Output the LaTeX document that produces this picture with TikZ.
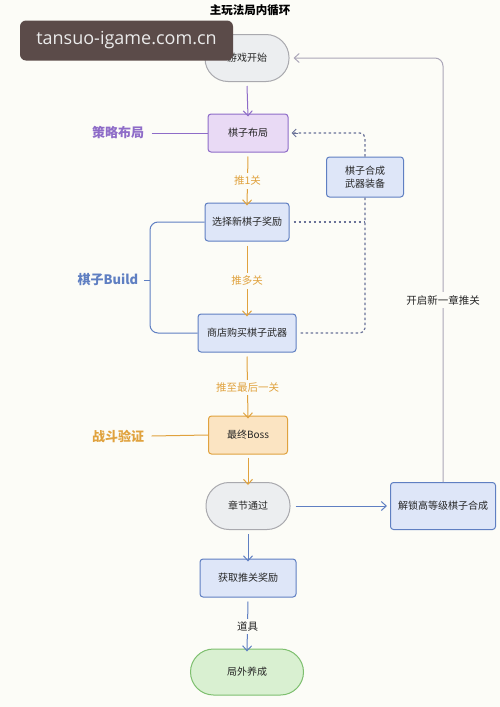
\documentclass[tikz,border=0pt]{standalone}
\usepackage{fontspec}
\setmainfont{Noto Sans CJK SC}
\newfontfamily\wmfont{Open Sans}
\usetikzlibrary{arrows.meta}
\definecolor{bg}{HTML}{FCFCF7}
\definecolor{pur}{HTML}{8E6CC8}
\definecolor{purfill}{HTML}{E9DAF5}
\definecolor{blu}{HTML}{5F7FC2}
\definecolor{blufill}{HTML}{DEE6F8}
\definecolor{org}{HTML}{E0A23E}
\definecolor{orgfill}{HTML}{FBE4C2}
\definecolor{grn}{HTML}{7DBF6E}
\definecolor{grnfill}{HTML}{D9F0D1}
\definecolor{gry}{HTML}{A9A9AE}
\definecolor{gryfill}{HTML}{ECEEF0}
\definecolor{loopc}{HTML}{ABA6B8}
\definecolor{dotc}{HTML}{6A7298}
\definecolor{wm}{HTML}{5B4B49}
\tikzset{
  box/.style={draw=blu, fill=blufill, line width=1pt, rounded corners=3pt, minimum height=38pt, font=\fontsize{10}{12}\selectfont, text=black!85, align=center},
  stad/.style={draw=gry, fill=gryfill, line width=1pt, rounded corners=23pt, minimum width=84pt, minimum height=47pt, font=\fontsize{10}{12}\selectfont, text=black!85},
  side/.style={font=\fontsize{13}{15}\selectfont\bfseries},
  lbl/.style={fill=bg, inner sep=3pt, font=\fontsize{10.5}{12}\selectfont},
  arr/.style={-{Straight Barb[length=5pt,width=9pt]}, line width=1pt},
  dots/.style={line width=1.2pt, dash pattern=on 2.5pt off 2.5pt, draw=dotc}
}
\begin{document}
\begin{tikzpicture}[x=1pt,y=-1pt]
\fill[bg] (0,0) rectangle (500,707);
\useasboundingbox (0,0) rectangle (500,707);

\node[font=\fontsize{11.5}{13}\selectfont\bfseries] (title) at (250,10) {主玩法局内循环};

% nodes
\node[stad] (start) at (247,58) {游戏开始};
\node[box, draw=pur, fill=purfill, minimum width=80pt] (layout) at (248,133) {棋子布局};
\node[box, minimum width=84pt] (choose) at (247,222) {选择新棋子奖励};
\node[box, minimum width=77pt, minimum height=40pt] (merge) at (365,177) {棋子合成\\[1pt]武器装备};
\node[box, minimum width=98pt] (shop) at (247,333) {商店购买棋子武器};
\node[box, draw=org, fill=orgfill, minimum width=79pt] (boss) at (248,435) {最终Boss};
\node[stad] (pass) at (248,506) {章节通过};
\node[box, minimum width=105pt, minimum height=47pt] (unlock) at (443,506) {解锁高等级棋子合成};
\node[box, minimum width=96pt] (reward) at (248,578) {获取推关奖励};
\node[stad, draw=grn, fill=grnfill, minimum width=113pt, minimum height=46pt] (out) at (247,672) {局外养成};

% side labels
\node[side, text=pur] (lbStrat) at (118,133) {策略布局};
\node[side, text=blu] (lbBuild) at (108,280) {棋子Build};
\node[side, text=org] (lbFight) at (118,436) {战斗验证};

\draw[pur, line width=1pt] (lbStrat.east) ++(4,0) -- (layout.west);
\draw[org, line width=1pt] (lbFight.east) ++(4,0) -- (boss.west);
\coordinate (bx) at (150,280);
\draw[blu, line width=1pt, rounded corners=8pt] (choose.west) -| (bx) |- (shop.west);
\draw[blu, line width=1pt] (lbBuild.east) ++(2,0) -- (bx);

% main flow
\draw[arr, pur] (start.south) ++(0,4) -- ([yshift=-3pt]layout.north);
\draw[arr, org] (layout.south) ++(0,4) -- node[lbl, text=org] {推1关} ([yshift=-3pt]choose.north);
\draw[arr, org] (choose.south) ++(0,4) -- node[lbl, text=org] {推多关} ([yshift=-3pt]shop.north);
\draw[arr, org] (shop.south) ++(0,4) -- node[lbl, text=org] {推至最后一关} ([yshift=-3pt]boss.north);
\draw[arr, org] (boss.south) ++(0,3) -- ([yshift=-3pt]pass.north);
\draw[arr, blu] (pass.south) ++(0,4) -- ([yshift=-3pt]reward.north);
\draw[arr, blu] (reward.south) ++(0,4) -- node[lbl, text=black!85] {道具} ([yshift=-3pt]out.north);
\draw[arr, blu] (pass.east) ++(5,0) -- ([xshift=-3pt]unlock.west);

% loop back
\coordinate (corner) at (443,58);
\draw[arr, draw=loopc, rounded corners=8pt] (unlock.north) -- (corner) -- ([xshift=4pt]start.east);
\node[lbl, text=black!85] (lbNew) at (443,300) {开启新一章推关};

% dotted merge connections
\draw[dots, rounded corners=5pt] (merge.north) |- ([xshift=4pt]layout.east);
\draw[dotc, -{Straight Barb[length=4pt,width=8pt]}, line width=1pt] ([xshift=9pt]layout.east) -- ([xshift=3pt]layout.east);
\draw[dots] ([xshift=4pt]choose.east) -- (merge.south |- choose.east);
\draw[dots, rounded corners=5pt] (merge.south) |- ([xshift=4pt]shop.east);

% watermark
\node[fill=wm, rounded corners=6pt, minimum width=213pt, minimum height=40pt, text=white!92!black, font=\wmfont\fontsize{18}{20}\selectfont] (wm) at (126.5,40.5) {tansuo-igame.com.cn};
\end{tikzpicture}
\end{document}
